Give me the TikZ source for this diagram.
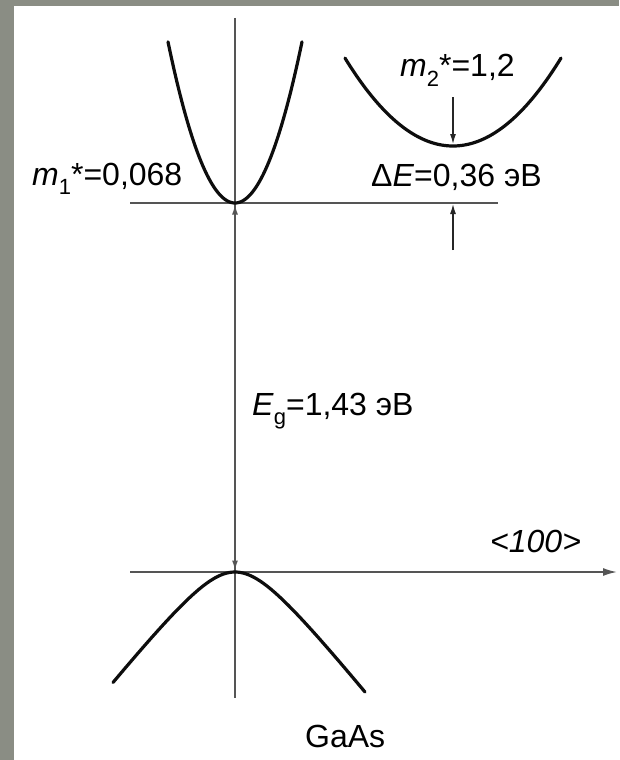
\documentclass[tikz,border=0pt]{standalone}
\usepackage{fontspec}
\setmainfont{Liberation Sans}
\usetikzlibrary{arrows.meta}
\definecolor{bggray}{RGB}{138,141,132}
\definecolor{axisgray}{RGB}{85,85,85}
\newcommand{\lowsub}[1]{\raisebox{-0.3em}{\fontsize{22}{22}\selectfont #1}}
\begin{document}
\begin{tikzpicture}[x=1pt,y=-1pt,
  curve/.style={line width=3.2pt, black!95, line cap=round},
  axisline/.style={line width=1.7pt, axisgray},
  dimarrow/.style={line width=1.3pt, black!85, -{Latex[length=10pt,width=6pt]}},
  lbl/.style={anchor=base west, inner sep=0pt, font=\fontsize{32}{38}\selectfont}]
\fill[bggray] (0,0) rectangle (619,760);
\fill[white] (14,6) rectangle (619,760);
\useasboundingbox (0,0) rectangle (619,760);
% coordinates
\coordinate (axtop) at (235,18);
\coordinate (axbot) at (235,698);
\coordinate (G) at (235,203);
\coordinate (V) at (235,572);
\coordinate (cbL) at (130,203);
\coordinate (cbR) at (498,203);
\coordinate (kL) at (130,572);
\coordinate (kR) at (617,572);
\coordinate (Lmin) at (453,146);
\coordinate (arTop) at (453,97);
\coordinate (arBot) at (453,250);
\coordinate (cbHit) at (453,203);
% axes and lines
\draw[axisline] (axtop) -- (axbot);
\draw[axisline] (cbL) -- (cbR);
\draw[axisline, -{Latex[length=14pt,width=8pt]}] (kL) -- (kR);
\draw[axisline, {Latex[length=10pt,width=6pt]}-{Latex[length=10pt,width=6pt]}, shorten <=1.5pt, shorten >=1.5pt] (V) -- (G);
% bands
\draw[curve] plot[domain=168:302, samples=90, smooth] (\x,{203-0.0359*(\x-235)^2});
\draw[curve] plot[domain=345:561, samples=90, smooth] (\x,{146-0.00754*(\x-453)^2});
\draw[curve] plot[domain=113:365, samples=90, smooth] (\x,{572+50*(sqrt(1+((\x-235)/40)^2)-1)});
% dimension arrows
\draw[dimarrow, shorten >=2pt] (arTop) -- (Lmin);
\draw[dimarrow, shorten >=1pt] (arBot) -- (cbHit);
% labels
\node[lbl] (m1) at (32,185) {\textit{m}\lowsub{1}*=0,068};
\node[lbl] (m2) at (400,77) {\textit{m}\lowsub{2}*=1,2};
\node[lbl] (dE) at (371,186) {Δ\textit{E}=0,36 эВ};
\node[lbl] (Eg) at (252,415) {\textit{E}\lowsub{g}=1,43 эВ};
\node[lbl] (dir) at (490,552) {\textit{<100>}};
\node[lbl] (mat) at (305,747) {GaAs};
\end{tikzpicture}
\end{document}
